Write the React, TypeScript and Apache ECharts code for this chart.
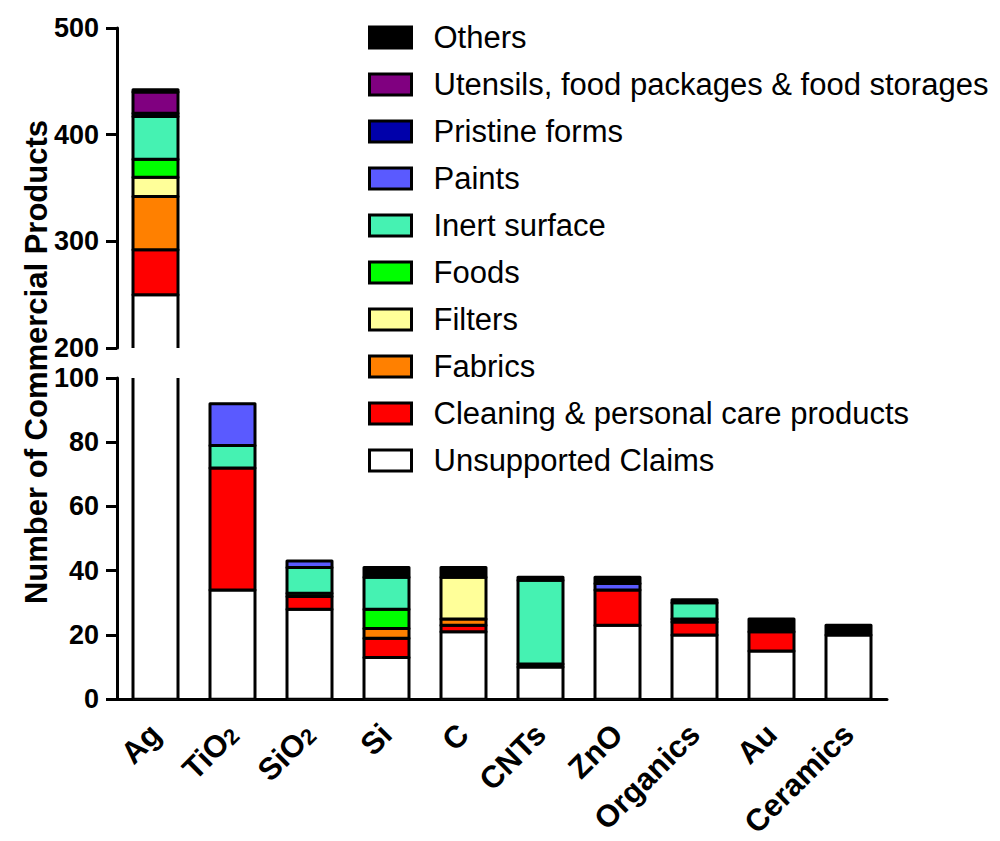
import React, { useEffect, useRef } from "react";
import * as echarts from "echarts";

// Nanomaterial categories along the x axis
const categories = ["Ag", "TiO2", "SiO2", "Si", "C", "CNTs", "ZnO", "Organics", "Au", "Ceramics"];

// Product counts per claimed application, in stacking order (bottom to top)
const unsupportedClaims = [250, 34, 28, 13, 21, 10, 23, 20, 15, 20];
const cleaningPersonal = [42, 38, 4, 6, 2, 1, 11, 4, 6, 0];
const fabrics = [50, 0, 0, 3, 2, 0, 0, 0, 0, 0];
const filters = [18, 0, 0, 0, 13, 0, 0, 0, 0, 0];
const foods = [17, 0, 1, 6, 0, 0, 0, 1, 0, 0];
const inertSurface = [40, 7, 8, 10, 0, 26, 0, 5, 0, 0];
const paints = [0, 13, 2, 0, 0, 0, 2, 0, 0, 0];
const pristineForms = [3, 0, 0, 0, 0, 0, 0, 0, 0, 0];
const utensils = [20, 0, 0, 0, 0, 0, 0, 0, 0, 0];
const others = [2, 0, 0, 3, 3, 1, 2, 1, 4, 3];

// Axis ticks of the two panels of the broken y axis
const lowerTicks = { min: 0, max: 100, interval: 20 };
const upperTicks = { min: 200, max: 500, interval: 100 };

const seriesDefs = [
  { name: "Unsupported Claims", data: unsupportedClaims, color: "#FFFFFF" },
  { name: "Cleaning & personal care products", data: cleaningPersonal, color: "#FF0000" },
  { name: "Fabrics", data: fabrics, color: "#FF8000" },
  { name: "Filters", data: filters, color: "#FFFF99" },
  { name: "Foods", data: foods, color: "#00FF00" },
  { name: "Inert surface", data: inertSurface, color: "#45F2B2" },
  { name: "Paints", data: paints, color: "#5A5AFF" },
  { name: "Pristine forms", data: pristineForms, color: "#0000AA" },
  { name: "Utensils, food packages & food storages", data: utensils, color: "#800080" },
  { name: "Others", data: others, color: "#000000" },
];

const FONT = '"Liberation Sans", Arial, Helvetica, sans-serif';

const GRID_LEFT = 117;
const GRID_WIDTH = 770;
const UPPER_TOP = 28;
const UPPER_HEIGHT = 320;
const LOWER_TOP = 378;
const LOWER_HEIGHT = 323;
const BAR_WIDTH = 45;

const axisLineStyle = { color: "#000", width: 3 };

function categoryLabel(v: string): string {
  const m = v.match(/^(.*?)(\d+)$/);
  if (m) return `{b|${m[1]}}{s|${m[2]}}`;
  return `{b|${v}}`;
}

// [categoryIndex, base, top] rows for each stacked layer, skipping empty segments
function stackedLayers() {
  const running = categories.map(() => 0);
  return seriesDefs.map((s) => {
    const rows: number[][] = [];
    s.data.forEach((v, i) => {
      const base = running[i];
      running[i] += v;
      if (v > 0) rows.push([i, base, running[i]]);
    });
    return rows;
  });
}

export default function App() {
  const ref = useRef<HTMLDivElement>(null);

  useEffect(() => {
    if (!ref.current) return;
    const chart = echarts.init(ref.current, null, { renderer: "svg" });

    const layers = stackedLayers();
    const series: any[] = [];
    [0, 1].forEach((gi) => {
      seriesDefs.forEach((s, k) => {
        series.push({
          name: s.name,
          type: "custom",
          xAxisIndex: gi,
          yAxisIndex: gi,
          clip: true,
          silent: true,
          itemStyle: { color: s.color },
          encode: { x: 0, y: [1, 2] },
          data: layers[k],
          renderItem: (_params: any, api: any) => {
            const xi = api.value(0);
            const p0 = api.coord([xi, api.value(1)]);
            const p1 = api.coord([xi, api.value(2)]);
            return {
              type: "rect",
              shape: {
                x: p0[0] - BAR_WIDTH / 2,
                y: p1[1],
                width: BAR_WIDTH,
                height: p0[1] - p1[1],
              },
              style: { fill: s.color, stroke: "#000", lineWidth: 3, lineJoin: "round" },
            };
          },
        });
      });
    });

    const yLabel = {
      color: "#000",
      fontFamily: FONT,
      fontWeight: "bold" as const,
      fontSize: 27,
      margin: 18,
    };

    chart.setOption({
      animation: false,
      backgroundColor: "#fff",
      grid: [
        { left: GRID_LEFT, top: UPPER_TOP, width: GRID_WIDTH, height: UPPER_HEIGHT },
        { left: GRID_LEFT, top: LOWER_TOP, width: GRID_WIDTH, height: LOWER_HEIGHT },
      ],
      xAxis: [
        { type: "category", gridIndex: 0, data: categories, show: false },
        {
          type: "category",
          gridIndex: 1,
          data: categories,
          axisLine: { lineStyle: axisLineStyle },
          axisTick: { alignWithLabel: true, length: 10, lineStyle: axisLineStyle },
          axisLabel: {
            interval: 0,
            rotate: 45,
            margin: 30,
            color: "#000",
            formatter: categoryLabel,
            rich: {
              b: { fontFamily: FONT, fontWeight: "bold", fontSize: 31, color: "#000" },
              s: {
                fontFamily: FONT,
                fontWeight: "bold",
                fontSize: 22,
                color: "#000",
                verticalAlign: "bottom",
                padding: [8, 0, 0, 0],
              },
            },
          },
        },
      ],
      yAxis: [
        {
          type: "value",
          gridIndex: 0,
          ...upperTicks,
          splitLine: { show: false },
          axisLine: { show: true, lineStyle: axisLineStyle },
          axisTick: { show: true, length: 11, lineStyle: axisLineStyle },
          axisLabel: yLabel,
        },
        {
          type: "value",
          gridIndex: 1,
          ...lowerTicks,
          splitLine: { show: false },
          axisLine: { show: true, lineStyle: axisLineStyle },
          axisTick: { show: true, length: 11, lineStyle: axisLineStyle },
          axisLabel: yLabel,
        },
      ],
      legend: {
        orient: "vertical",
        left: 363,
        top: 17,
        itemWidth: 42,
        itemHeight: 21,
        itemGap: 16,
        icon: "rect",
        selectedMode: false,
        data: seriesDefs.map((s) => s.name).reverse(),
        itemStyle: { borderColor: "#000", borderWidth: 3 },
        textStyle: {
          fontFamily: FONT,
          fontSize: 31,
          color: "#000",
          padding: [0, 0, 0, 17],
        },
      },
      graphic: [
        {
          type: "text",
          x: 36,
          y: 362,
          rotation: Math.PI / 2,
          style: {
            text: "Number of Commercial Products",
            font: `bold 31px ${FONT}`,
            fill: "#000",
            align: "center",
            verticalAlign: "middle",
          },
        },
      ],
      series,
    });

    return () => chart.dispose();
  }, []);

  return <div ref={ref} style={{ width: 1000, height: 841, margin: -8 }} />;
}
